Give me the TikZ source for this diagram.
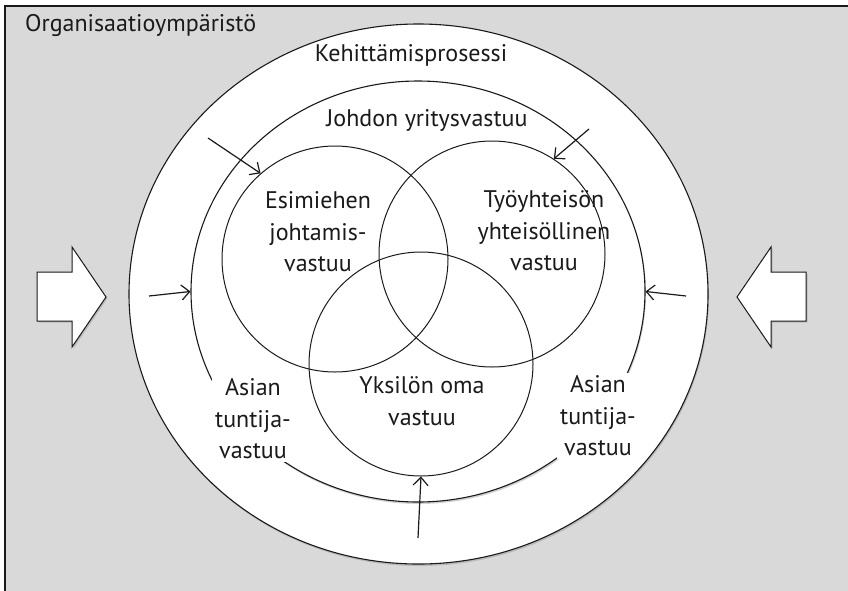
\documentclass[tikz,border=0pt]{standalone}
\usepackage{fontspec}
\setmainfont{PT Sans}
\usetikzlibrary{shapes.geometric,arrows.meta,shadows}
\definecolor{envgray}{HTML}{D9D9D9}
\definecolor{ink}{HTML}{1A1A1A}
\begin{document}
\begin{tikzpicture}[x=1pt,y=-1pt,
  lbl/.style={font=\fontsize{24}{31.5}\selectfont, text=ink, align=center, inner sep=0pt},
  ring/.style={ellipse, draw=ink, line width=1.1pt, fill=white, inner sep=0pt,
    drop shadow={opacity=0.35, shadow xshift=1pt, shadow yshift=-2pt}},
  zone/.style={circle, draw=ink, line width=1pt, inner sep=0pt},
  push/.style={draw=ink, line width=1.2pt, -{Straight Barb[length=8pt,width=15pt]}},
  blockarrow/.style={draw=ink, line width=1pt, fill=white, line join=miter,
    drop shadow={opacity=0.35, shadow xshift=1.5pt, shadow yshift=-1.5pt}},
  cover/.style={lbl, fill=white, inner sep=3pt}]
\useasboundingbox (0,0) rectangle (848,590);
\clip (0,0) rectangle (848,590);

% surrounding organisation
\draw[fill=envgray, draw=ink, line width=1.2pt] (5,6) rectangle (900,650);
\node[lbl, anchor=west] (env) at (25,25) {Organisaatioympäristö};

% nested process rings
\node[ring, minimum width=579pt, minimum height=540pt] (outer) at (418.5,294) {};
\node[ring, minimum width=454pt, minimum height=421pt] (mid) at (418,291.5) {};

% three areas of responsibility
\node[zone, minimum size=226pt] (esim) at (335,259) {};
\node[zone, minimum size=226pt] (tyo) at (492,254) {};
\node[zone, minimum size=224pt] (yks) at (421,364) {};

% ring labels
\node[lbl] (keh) at (411,55) {Kehittämisprosessi};
\node[lbl] (joh) at (427,120) {Johdon yritysvastuu};
\node[cover] (asiaL) at (253,419) {Asian\\tuntija-\\vastuu};
\node[cover] (asiaR) at (598,416) {Asian\\tuntija-\\vastuu};

% area labels
\node[lbl] (esimT) at (318,232) {Esimiehen\\johtamis-\\vastuu};
\node[lbl] (tyoT) at (544,231) {Työyhteisön\\yhteisöllinen\\vastuu};
\node[lbl] (yksT) at (422,401) {Yksilön oma\\vastuu};

% small influence arrows
\coordinate (pA) at (208,138);
\coordinate (pB) at (589,129);
\coordinate (pC) at (149,296);
\coordinate (pD) at (686,296);
\coordinate (pE) at (418,538);
\draw[push] (pA) -- (esim.131);
\draw[push] (pB) -- (tyo.57);
\draw[push] (pC) -- (mid.west);
\draw[push] (pD) -- (mid.east);
\draw[push] (pE) -- (yks.south);

% large block arrows from the environment
\path[blockarrow] (37,272) -- (72,272) -- (72,247) -- (106,297) -- (72,347)
  -- (72,321) -- (37,321) -- cycle;
\path[blockarrow] (806,272) -- (771,272) -- (771,247) -- (737,297) -- (771,347)
  -- (771,321) -- (806,321) -- cycle;
\end{tikzpicture}
\end{document}
